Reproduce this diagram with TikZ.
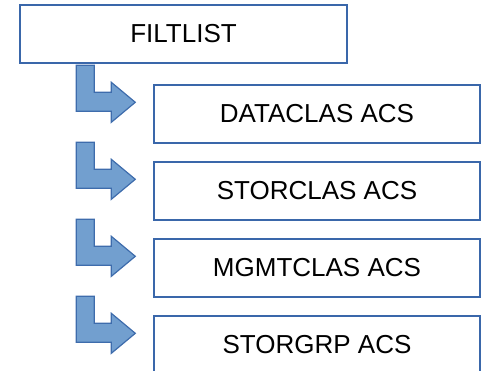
\documentclass[tikz,border=0pt]{standalone}
\usepackage{fontspec}
\setmainfont{Liberation Sans}
\usetikzlibrary{positioning,calc}
\definecolor{boxline}{RGB}{58,103,170}
\definecolor{arrfill}{RGB}{114,159,207}
\definecolor{arrline}{RGB}{62,108,172}
\tikzset{
  box/.style  = {rectangle, draw=boxline, line width=1.4pt,
                 minimum width = 326pt, minimum height = 58pt,
                 inner sep = 0pt, align = center,
                 font = \fontsize{26}{30}\selectfont},
  bent/.style = {fill=arrfill, draw=arrline, line width=1.2pt}
}
\begin{document}
\begin{tikzpicture}[x=1pt, y=1pt, node distance=17.6pt]
  \useasboundingbox (0,0) rectangle (481,-371);
  \node[box, minimum width=327pt] (filt) at (183.5,-34) {FILTLIST};
  \node[box] (dataclas) at (317,-114) {DATACLAS ACS};
  \node[box, below=of dataclas] (storclas) {STORCLAS ACS};
  \node[box, below=of storclas] (mgmtclas) {MGMTCLAS ACS};
  \node[box, below=of mgmtclas] (storgrp) {STORGRP ACS};
  % bent arrows in front of each box
  \foreach \b in {dataclas,storclas,mgmtclas,storgrp}
    \draw[bent, shift={(\b.north west)}]
      (-77,19) -- (-59,19) -- (-59,-8) -- (-42,-8) -- (-42,2)
      -- (-18,-18) -- (-42,-38) -- (-42,-27) -- (-77,-27) -- cycle;
\end{tikzpicture}
\end{document}
